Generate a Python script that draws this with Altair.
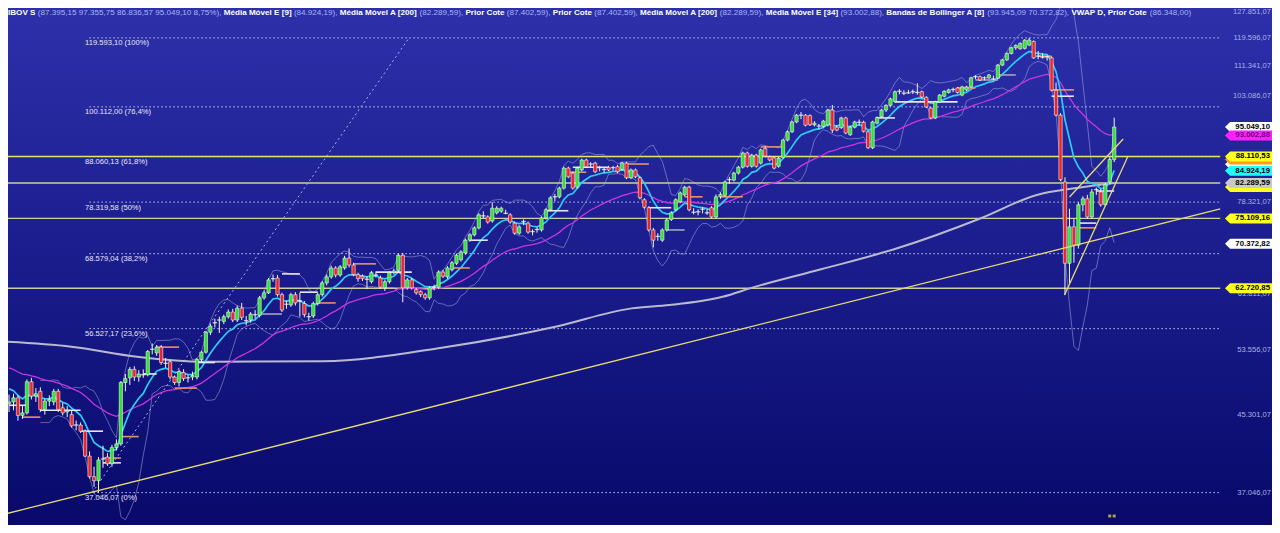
import altair as alt
import pandas as pd
import numpy as np

# ---------------- data (values in thousands of points) ----------------
OPEN = [
46.6,46.8,47.3,45.2,45.5,49.3,47.5,48.1,45.9,46.9,
46.8,48.1,46.1,45.6,45.3,44.0,44.1,43.4,40.7,38.6,
38.2,40.3,40.6,39.9,41.6,42.0,49.2,49.8,50.9,49.9,
50.3,50.2,53.4,53.1,53.9,51.8,51.9,49.9,49.2,50.5,
49.7,49.9,49.9,52.2,53.2,56.0,57.2,57.6,57.6,58.3,
59.0,57.8,59.6,57.9,57.8,58.7,58.5,61.2,62.0,64.1,
64.4,61.7,60.0,60.1,61.7,60.5,60.3,58.4,58.4,60.3,
61.7,63.6,64.6,66.1,64.9,66.1,67.8,66.6,65.0,64.7,
64.3,63.8,65.1,64.4,62.8,63.8,65.3,65.7,68.3,62.8,
64.1,62.5,62.2,61.7,61.2,62.8,62.9,65.4,64.6,65.8,
66.9,67.5,68.7,71.0,72.0,73.3,75.8,75.4,74.6,76.2,
76.5,76.4,75.8,74.2,72.3,74.3,74.2,72.4,72.8,72.9,
75.2,76.8,79.2,79.4,81.2,85.5,84.4,81.4,85.1,87.3,
86.2,86.6,85.3,85.0,85.6,85.4,85.8,85.2,86.6,83.4,
85.1,83.4,78.8,77.2,72.9,71.5,71.0,72.9,74.9,76.8,
78.4,79.8,81.4,76.5,76.2,76.6,76.4,77.2,75.4,79.4,
79.7,82.7,82.9,84.4,85.7,88.9,85.9,88.4,86.6,89.9,
88.0,87.8,85.9,87.9,91.9,93.9,96.3,97.8,98.0,97.9,
95.6,95.0,95.2,95.5,99.3,95.0,94.9,97.3,93.2,95.0,
96.0,96.2,93.9,90.1,96.0,97.6,99.3,100.5,101.5,104.0,
103.9,104.2,104.0,103.8,104.1,102.6,99.8,97.3,101.4,102.9,
103.9,104.5,105.1,103.2,104.6,105.4,107.9,108.2,107.7,107.9,
108.0,107.8,111.5,113.0,114.9,116.6,116.3,116.4,117.4,118.5,
113.8,114.0,113.5,113.6,104.5,98.0,82.5,66.9,73.5,70.1,
77.8,79.0,75.4,80.6,80.4,77.8,82.5,87.39515]
HIGH = [
47.7,47.8,47.6,46.3,49.6,49.8,48.5,48.6,47.2,47.6,
48.4,48.4,46.7,46.3,45.8,44.6,44.4,43.6,41.2,39.6,
40.6,41.8,41.0,41.9,42.5,49.4,50.3,51.2,51.3,50.8,
50.9,53.5,54.4,54.2,54.2,52.4,52.1,50.1,50.9,50.9,
50.2,50.6,52.4,53.4,56.2,57.2,58.0,58.3,58.6,59.4,
59.5,60.0,60.4,58.4,59.0,59.3,61.5,62.4,64.4,65.0,
64.9,62.0,60.8,62.0,62.1,62.0,60.7,58.9,60.6,62.0,
63.9,65.0,66.5,66.4,66.6,68.2,69.5,67.0,65.3,65.0,
64.7,65.6,65.5,64.8,64.1,65.6,66.0,68.6,68.7,64.4,
64.4,62.8,62.4,62.0,63.1,63.3,65.7,65.8,66.4,67.3,
68.6,69.2,71.3,72.3,73.6,76.1,76.5,75.7,78.3,77.5,
77.4,76.8,76.1,74.5,73.8,74.9,74.5,73.0,73.4,75.5,
77.1,79.5,80.0,81.5,85.8,85.8,84.7,85.8,87.6,87.6,
86.8,86.9,86.0,85.6,86.0,86.0,86.2,86.9,86.9,85.4,
85.4,83.7,79.1,77.5,73.3,72.3,73.2,75.1,76.5,79.1,
80.5,81.7,81.7,77.1,76.9,77.3,76.9,77.5,79.9,80.3,
82.8,83.6,84.7,86.0,89.2,89.2,88.7,88.7,89.9,90.4,
88.3,88.1,88.0,92.2,94.2,96.6,98.3,98.8,98.3,98.2,
96.5,95.8,96.8,99.6,100.6,95.5,97.6,97.6,95.3,96.6,
96.9,96.6,94.2,96.6,97.7,99.6,100.8,102.5,104.4,104.8,
104.5,104.6,104.7,106.4,104.4,102.9,100.1,101.7,103.5,104.5,
104.9,105.2,105.4,105.7,105.7,108.2,108.6,108.5,108.3,109.0,
108.5,111.8,113.3,115.2,116.9,117.6,118.2,119.2,119.6,118.8,
115.6,115.0,114.3,114.0,106.6,98.5,83.5,77.0,75.0,78.3,
79.5,79.8,81.0,81.3,81.0,82.3,87.9,97.35575]
LOW = [
45.6,45.8,44.6,44.8,45.3,47.1,46.8,45.6,45.3,46.3,
46.4,45.6,45.2,45.0,43.8,43.5,43.2,40.6,38.4,37.6,
37.05,39.5,39.7,39.6,41.3,41.8,48.1,48.9,49.4,49.3,
49.8,50.0,52.9,52.7,51.5,51.1,49.6,48.9,48.7,49.4,
49.2,49.5,49.6,51.9,53.0,55.6,56.7,55.9,57.2,58.0,
57.5,57.5,57.8,57.0,57.4,58.0,58.2,60.9,61.8,63.8,
61.4,59.0,59.5,59.8,60.0,58.3,58.2,57.7,58.1,60.0,
61.4,63.2,64.3,64.5,64.6,65.8,66.2,64.7,63.8,63.9,
62.6,63.5,64.5,62.6,62.3,63.5,65.0,65.4,60.5,62.5,
62.5,61.7,61.3,60.9,60.9,62.4,62.6,64.4,64.3,65.5,
66.6,67.2,68.4,70.7,71.7,73.0,75.0,74.1,74.3,75.9,
76.2,75.9,74.1,72.0,72.0,73.8,72.2,71.9,72.4,72.6,
74.9,76.5,78.5,79.1,80.9,83.3,80.9,81.1,84.8,85.5,
85.7,84.4,84.8,84.5,84.8,85.0,84.4,84.9,83.1,83.1,
83.3,78.9,77.0,72.6,69.7,70.9,70.7,72.6,74.6,76.5,
78.1,79.5,76.5,75.9,75.7,76.1,75.8,75.1,75.1,79.0,
79.4,82.1,82.6,84.1,85.4,85.6,85.6,85.6,86.3,87.9,
87.0,85.2,85.6,87.6,91.6,93.6,96.0,97.0,95.2,95.3,
95.2,94.5,94.9,95.2,93.6,94.0,94.6,93.3,92.9,94.7,
95.5,93.7,89.8,89.8,95.7,97.3,98.8,100.2,101.2,103.4,
103.2,103.5,103.5,103.3,102.4,99.8,97.0,97.0,101.1,102.6,
103.6,104.0,103.6,102.9,104.3,105.1,107.5,107.0,107.2,107.6,
107.3,107.5,111.2,112.7,114.6,116.0,116.0,116.1,117.1,113.3,
113.2,113.4,112.8,104.2,97.7,82.7,61.69,63.5,67.0,69.5,
76.5,75.0,75.0,79.8,77.4,77.5,82.0,86.83657]
CLOSE = [
46.8,47.3,45.2,45.5,49.3,47.5,47.8,45.9,46.9,47.1,
48.1,45.9,45.5,45.8,44.0,44.1,43.4,40.7,38.6,38.2,
40.3,40.4,39.9,41.6,42.0,49.2,49.7,50.9,49.9,50.3,
50.2,53.3,53.6,53.9,51.8,51.7,49.9,49.2,50.6,49.7,
49.8,50.1,52.2,53.2,56.0,56.9,57.4,57.8,58.3,59.0,
57.8,59.6,58.2,57.7,58.7,58.6,61.2,62.0,64.1,64.3,
61.7,59.3,60.2,61.7,60.4,60.7,58.6,58.3,60.3,61.7,
63.6,64.6,66.1,64.9,66.3,67.8,66.6,65.0,64.3,64.3,
64.2,65.3,64.9,62.9,63.8,65.3,65.6,68.3,62.8,64.1,
62.8,62.0,61.7,61.2,62.8,62.9,65.4,64.7,66.1,67.0,
68.3,68.9,71.0,72.0,73.3,75.8,75.6,74.4,77.1,77.1,
77.1,76.1,74.4,72.3,73.5,74.5,72.5,72.6,73.0,75.2,
76.8,79.2,79.4,81.2,85.5,83.6,81.2,85.5,87.3,85.8,
86.4,84.7,85.6,85.2,85.1,85.6,84.7,86.6,83.4,85.1,
83.6,79.2,77.3,72.9,71.0,71.7,72.9,74.8,76.2,78.8,
80.2,81.4,76.8,76.3,76.4,76.9,76.2,75.4,79.4,79.9,
82.5,83.0,84.4,85.7,88.9,85.9,88.4,85.9,89.6,88.2,
87.3,85.5,87.7,91.9,93.9,96.3,98.0,98.0,95.5,95.6,
96.0,95.3,96.5,99.3,94.3,94.3,97.3,93.6,95.0,96.3,
96.2,94.0,90.1,96.3,97.4,99.3,100.5,102.2,104.1,104.2,
103.7,103.8,104.1,103.9,102.7,100.1,97.3,101.4,103.2,104.2,
104.6,104.7,103.9,105.4,105.4,107.9,108.2,107.3,107.9,108.7,
107.6,111.5,113.0,114.9,116.6,117.3,117.9,118.9,118.9,113.6,
114.1,113.8,113.9,104.5,98.0,83.0,66.9,73.5,70.1,77.8,
79.0,75.4,80.4,80.9,77.8,81.9,87.4,95.04910]

EMA9_START = 48.4     # value of the 9-period EMA at the first visible candle
EMA34_START = 51.1    # value of the 34-period EMA at the first visible candle

SMA200_K = [-0.9, 13.9, 28.6, 43.5, 70.1, 96.7, 122.1, 139.1, 147.6, 159.5,
            166.3, 181.5, 198.5, 217.2, 229.7, 238.6, 247]
SMA200_V = [54.66, 53.96, 52.59, 51.92, 51.98, 53.81, 56.80, 59.56, 60.07, 61.37,
            62.87, 65.87, 69.53, 75.14, 79.79, 81.24, 82.29]

FIB_V = [119.5931, 100.112, 88.06013, 78.31958, 68.57904, 56.52717, 37.04607]
FIB_LABEL = ["119.593,10 (100%)", "100.112,00 (76,4%)", "88.060,13 (61,8%)",
             "78.319,58 (50%)", "68.579,04 (38,2%)", "56.527,17 (23,6%)", "37.046,07 (0%)"]
FIB_SPAN_K = [17.96, 270.7]
FIB_DIAG_K = [18.6, 89.4]
FIB_DIAG_V = [37.04607, 119.5931]

HLINE_V = [88.11053, 82.28959, 75.10916, 62.72085]
HLINE_KIND = ["bright", "pale", "pale", "pale"]
HLINE_SPAN_K = [-0.9, 270.7]

TREND_ID = ["main", "main", "wup", "wup", "wlo", "wlo"]
TREND_K = [-0.9, 270.7, 237.0, 249.0, 235.9, 250.1]
TREND_V = [35.06, 76.97, 79.37, 92.17, 61.66, 88.21]

PRIOR_K0 = [0, 3, 7, 16, 21, 21, 25, 30, 33, 37, 42, 56, 61, 65, 69, 77, 82, 99, 103,
            120, 125, 126, 138, 143, 147, 151, 159, 168, 194, 198, 212, 216, 221, 230,
            233, 233, 239, 239, 243]
PRIOR_K1 = [4, 7, 16, 21, 25, 25, 29, 33, 38, 42, 46, 61, 65, 69, 73, 82, 90, 103, 107,
            125, 129, 134, 143, 148, 151, 155, 164, 173, 198, 212, 216, 221, 225, 233,
            238, 238, 243, 243, 247]
PRIOR_V = [46.4, 45.0, 45.8, 43.4, 40.5, 40.0, 42.8, 50.3, 53.9, 48.5, 51.8, 58.7, 65.1,
           62.1, 60.4, 66.8, 65.4, 66.1, 71.0, 76.6, 84.6, 85.7, 86.4, 77.2, 72.9, 79.4,
           79.4, 90.3, 97.3, 101.4, 105.1, 107.3, 108.7, 114.1, 104.6, 102.9, 74.2,
           73.3, 80.6]
PRIOR_KIND = ["w", "o", "w", "w", "o", "w", "o", "w", "o", "o", "w", "g", "w", "w", "o",
              "o", "w", "o", "w", "w", "o", "w", "o", "w", "g", "o", "o", "o", "w", "w",
              "o", "g", "g", "o", "o", "w", "w", "o", "w"]

# right-hand scale labels that are not hidden behind a price tag
AXIS_V = [127.85107, 119.59607, 111.34107, 103.08607, 78.32107,
          61.81107, 53.55607, 45.30107, 37.04607]
AXIS_LABEL = ["127.851,07", "119.596,07", "111.341,07", "103.086,07",
              "78.321,07", "61.811,07", "53.556,07", "45.301,07", "37.046,07"]

# price tags, in drawing order (later ones on top); hidden tags carry no readable text
TAG_V = [86.348, 87.40259, 81.44, 95.0491, 93.00288, 88.11053, 84.92419, 82.28959,
         75.10916, 70.37282, 62.72085]
TAG_TEXT = ["", "", "", "95.049,10", "93.002,88", "88.110,53",
            "84.924,19", "82.289,59", "75.109,16", "70.372,82", "62.720,85"]
TAG_KIND = ["white", "orange", "yellow", "white", "magenta", "yellow", "cyan", "silver",
            "yellow", "white", "yellow"]

HEADER = [("IBOV S", 1), ("(87.395,15 97.355,75 86.836,57 95.049,10 8,75%),", 0),
          ("Média Móvel E [9]", 1), ("(84.924,19),", 0),
          ("Média Móvel A [200]", 1), ("(82.289,59),", 0),
          ("Prior Cote", 1), ("(87.402,59),", 0),
          ("Prior Cote", 1), ("(87.402,59),", 0),
          ("Média Móvel A [200]", 1), ("(82.289,59),", 0),
          ("Média Móvel E [34]", 1), ("(93.002,88),", 0),
          ("Bandas de Bollinger A [8]", 1), ("(93.945,09 70.372,82),", 0),
          ("VWAP D, Prior Cote", 1), ("(86.348,00)", 0)]

MARK_K = [246, 247]
MARK_V = [34.88, 34.88]

# ---------------- styling ----------------
W, H = 1264, 517
FONT = "Liberation Sans"
XS = alt.Scale(domain=[0.887, 281.15], nice=False, zero=False)
YS = alt.Scale(type="log", domain=[34.08, 129.17], nice=False, zero=False)
PRIOR_COL = {"w": "#e6e6f2", "o": "#e3926e", "g": "#a4a4bc"}
HLINE_COL = {"bright": "#ece26a", "pale": "#d2cca2"}
TAG_BG = {"white": "#ffffff", "orange": "#ff9a1a", "yellow": "#ffff20", "magenta": "#ff20ff",
          "cyan": "#20ffff", "silver": "#c9c9c9"}
TAG_FG = {"white": "#000000", "orange": "#000000", "yellow": "#000000", "magenta": "#700070",
          "cyan": "#000000", "silver": "#000000"}

# ---------------- derived tables ----------------
n = len(CLOSE)
cand = pd.DataFrame({"k": range(n), "o": OPEN, "h": HIGH, "l": LOW, "c": CLOSE})
cand["doji"] = (cand["c"] - cand["o"]).abs() / cand["o"] < 0.004
cand["col"] = np.where(cand["c"] >= cand["o"], "#2fe42f", "#ec2424")


def ema(vals, span, start):
    a = 2.0 / (span + 1)
    out = [start]
    for v in vals[1:]:
        out.append(out[-1] + a * (v - out[-1]))
    return out


ind = pd.DataFrame({"k": range(n)})
ind["ema9"] = ema(CLOSE, 9, EMA9_START)
ind["ema34"] = ema(CLOSE, 34, EMA34_START)
cs = pd.Series(CLOSE)
mid = cs.rolling(8).mean()
sd = cs.rolling(8).std(ddof=0)
ind["bbu"] = mid + 2 * sd
ind["bbl"] = mid - 2 * sd
bb = ind.dropna()[["k", "bbu", "bbl"]]

sma = pd.DataFrame({"k": SMA200_K, "v": SMA200_V})
fib = pd.DataFrame({"v": FIB_V, "label": FIB_LABEL, "k0": FIB_SPAN_K[0], "k1": FIB_SPAN_K[1]})
fibd = pd.DataFrame({"k": FIB_DIAG_K, "v": FIB_DIAG_V})
hl = pd.DataFrame({"v": HLINE_V, "col": [HLINE_COL[x] for x in HLINE_KIND],
                   "k0": HLINE_SPAN_K[0], "k1": HLINE_SPAN_K[1]})
tr = pd.DataFrame({"id": TREND_ID, "k": TREND_K, "v": TREND_V})
pr = pd.DataFrame({"k0": PRIOR_K0, "k1": PRIOR_K1, "v": PRIOR_V,
                   "col": [PRIOR_COL[x] for x in PRIOR_KIND]})
ax = pd.DataFrame({"v": AXIS_V, "label": AXIS_LABEL})
tags = pd.DataFrame({"v": TAG_V, "t": TAG_TEXT, "bg": [TAG_BG[x] for x in TAG_KIND],
                     "fg": [TAG_FG[x] for x in TAG_KIND], "order": range(len(TAG_V))})
tag_labels = tags[tags["t"] != ""]
marks = pd.DataFrame({"k": MARK_K, "v": MARK_V})

# header layout from approximate font metrics
REG = {' ': 278, '(': 333, ')': 333, ',': 278, '.': 278, '%': 889, '[': 278, ']': 278,
       'A': 667, 'B': 667, 'C': 722, 'D': 722, 'E': 667, 'I': 278, 'M': 833, 'O': 778,
       'P': 667, 'S': 667, 'V': 667, 'W': 944, 'a': 556, 'd': 556, 'e': 556, 'é': 556,
       'g': 556, 'i': 222, 'l': 222, 'n': 556, 'o': 556, 'ó': 556, 'r': 333, 's': 500,
       't': 278, 'v': 500}
BLD = {' ': 278, '(': 333, ')': 333, ',': 278, '.': 278, '%': 889, '[': 333, ']': 333,
       'A': 722, 'B': 722, 'C': 722, 'D': 722, 'E': 667, 'I': 278, 'M': 833, 'O': 778,
       'P': 667, 'S': 667, 'V': 667, 'W': 944, 'a': 556, 'd': 611, 'e': 556, 'é': 556,
       'g': 611, 'i': 278, 'l': 278, 'n': 611, 'o': 611, 'ó': 611, 'r': 389, 's': 556,
       't': 333, 'v': 556}
HFS = 8.1
rows, xpos = [], 0.0
for txt, bold in HEADER:
    tab = BLD if bold else REG
    rows.append({"x": xpos, "t": txt, "b": bold})
    xpos += sum(tab.get(ch, 556) for ch in txt) * HFS / 1000 + 278 * HFS / 1000
head = pd.DataFrame(rows)

# ---------------- layers ----------------
X = alt.X("k:Q", scale=XS, axis=None)
Yv = alt.Y("v:Q", scale=YS, axis=None)

bg = alt.Chart(alt.Data(values=[{}])).mark_rect(
    color=alt.Gradient(gradient="linear",
                       stops=[alt.GradientStop(color="#2d30aa", offset=0),
                              alt.GradientStop(color="#1a1c8c", offset=0.5),
                              alt.GradientStop(color="#08096a", offset=1)],
                       x1=0, x2=0, y1=0, y2=1)
).encode(x=alt.value(0), x2=alt.value(W), y=alt.value(0), y2=alt.value(H))

fib_lines = alt.Chart(fib).mark_rule(strokeDash=[1.5, 2.5], color="#c6c8f0", strokeWidth=1).encode(
    x=alt.X("k0:Q", scale=XS, axis=None), x2="k1:Q", y=Yv)
h_lines = alt.Chart(hl).mark_rule(strokeWidth=1.4).encode(
    x=alt.X("k0:Q", scale=XS, axis=None), x2="k1:Q", y=Yv,
    color=alt.Color("col:N", scale=None))
fib_diag = alt.Chart(fibd).mark_line(strokeDash=[2, 3], color="#a8b2ee", strokeWidth=1, clip=True).encode(
    x=X, y=Yv)
bands = alt.Chart(bb).transform_fold(["bbu", "bbl"], as_=["band", "val"]).mark_line(
    color="#b4b8e4", strokeWidth=0.9, opacity=0.55, clip=True).encode(
    x=X, y=alt.Y("val:Q", scale=YS, axis=None), detail="band:N")
sma_line = alt.Chart(sma).mark_line(color="#babace", strokeWidth=2, interpolate="monotone", clip=True).encode(
    x=X, y=Yv)
ema34 = alt.Chart(ind).mark_line(color="#c935de", strokeWidth=1.3, clip=True).encode(
    x=X, y=alt.Y("ema34:Q", scale=YS, axis=None))
ema9 = alt.Chart(ind).mark_line(color="#2ccbf4", strokeWidth=1.7, clip=True).encode(
    x=X, y=alt.Y("ema9:Q", scale=YS, axis=None))
prior = alt.Chart(pr).mark_rule(strokeWidth=1.6, clip=True).encode(
    x=alt.X("k0:Q", scale=XS, axis=None), x2="k1:Q", y=Yv,
    color=alt.Color("col:N", scale=None))
wicks = alt.Chart(cand).mark_rule(color="#f4f4f4", strokeWidth=1, clip=True).encode(
    x=X, y=alt.Y("l:Q", scale=YS, axis=None), y2="h:Q")
bodies = alt.Chart(cand).transform_filter("!datum.doji").mark_bar(
    size=3.3, stroke="#f2f2f2", strokeWidth=0.6, clip=True).encode(
    x=X, y=alt.Y("o:Q", scale=YS, axis=None), y2="c:Q",
    color=alt.Color("col:N", scale=None))
dojis = alt.Chart(cand).transform_filter("datum.doji").mark_tick(
    orient="horizontal", size=4.5, thickness=1.3, color="#ffffff", clip=True).encode(
    x=X, y=alt.Y("c:Q", scale=YS, axis=None))
trends = alt.Chart(tr).mark_line(color="#e6dc74", strokeWidth=1.3, clip=True).encode(
    x=X, y=Yv, detail="id:N")

fib_text = alt.Chart(fib).mark_text(align="left", baseline="top", dy=1.5, font=FONT,
                                     fontSize=7.6, color="#e8e8f8").encode(
    x=alt.value(77), y=Yv, text="label:N")
ax_text = alt.Chart(ax).mark_text(align="right", baseline="middle", font=FONT,
                                  fontSize=7.6, color="#aab2e4").encode(
    x=alt.value(1263), y=Yv, text="label:N")
TAG_PATH = "M-1,0L-0.8,-0.196L1,-0.196L1,0.196L-0.8,0.196Z"
tag_shape = alt.Chart(tags).mark_point(shape=TAG_PATH, size=2601, filled=True, opacity=1,
                                       strokeWidth=0).encode(
    x=alt.value(1242.5), y=Yv, fill=alt.Fill("bg:N", scale=None),
    order=alt.Order("order:Q"))
tag_text = alt.Chart(tag_labels).mark_text(align="right", baseline="middle", font=FONT,
                                           fontSize=7.8, fontWeight="bold").encode(
    x=alt.value(1262), y=Yv, text="t:N", color=alt.Color("fg:N", scale=None),
    order=alt.Order("order:Q"))

head_b = alt.Chart(head).transform_filter("datum.b == 1").mark_text(
    align="left", baseline="top", font=FONT, fontSize=HFS, fontWeight="bold",
    color="#ffffff").encode(x=alt.X("x:Q", scale=None), y=alt.value(0.5), text="t:N")
head_r = alt.Chart(head).transform_filter("datum.b == 0").mark_text(
    align="left", baseline="top", font=FONT, fontSize=HFS,
    color="#a6b6f2").encode(x=alt.X("x:Q", scale=None), y=alt.value(0.5), text="t:N")

mk = alt.Chart(marks).mark_square(size=9, color="#f2e626").encode(x=X, y=Yv)

chart = alt.layer(
    bg, fib_lines, h_lines, fib_diag, bands, sma_line, ema34, ema9, prior,
    wicks, bodies, dojis, trends, fib_text, ax_text, tag_shape, tag_text,
    head_b, head_r, mk
).properties(
    width=W, height=H, padding=0, autosize=alt.AutoSizeParams(type="none"),
    background="#08096a"
).configure_view(strokeWidth=0)

chart.save("out.html", embed_options={"renderer": "svg", "actions": False})
